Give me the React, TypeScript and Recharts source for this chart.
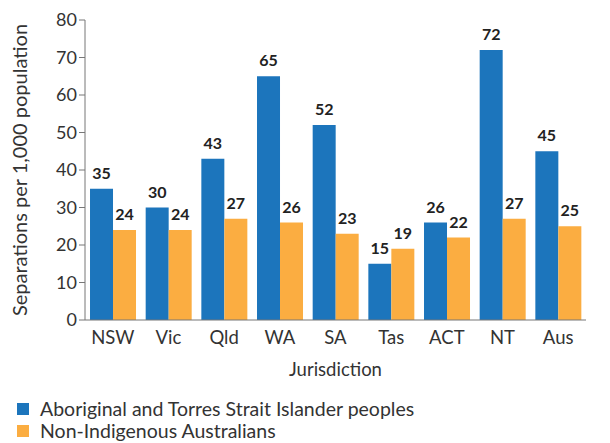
import { BarChart, Bar, XAxis, YAxis, LabelList } from "recharts";

const JURISDICTIONS = ["NSW", "Vic", "Qld", "WA", "SA", "Tas", "ACT", "NT", "Aus"];
const INDIGENOUS = [35, 30, 43, 65, 52, 15, 26, 72, 45];
const NON_INDIGENOUS = [24, 24, 27, 26, 23, 19, 22, 27, 25];
const Y_TICKS = [0, 10, 20, 30, 40, 50, 60, 70, 80];

const BLUE = "#1c75bc";
const ORANGE = "#fbad41";
const FONT = "Lato, 'Open Sans', sans-serif";

const data = JURISDICTIONS.map((j, i) => ({
  name: j,
  indigenous: INDIGENOUS[i],
  nonIndigenous: NON_INDIGENOUS[i],
}));

export default function App() {
  return (
    <div style={{ position: "absolute", left: 0, top: 0, width: 610, height: 443, background: "#fff", fontFamily: FONT }}>
      <BarChart
        width={610}
        height={380}
        data={data}
        margin={{ top: 20, right: 24, left: 0, bottom: 0 }}
        barCategoryGap="9%"
        barGap={0}
      >
        <XAxis
          dataKey="name"
          height={60}
          tickLine={false}
          axisLine={{ stroke: "#777" }}
          tick={{ fill: "#333", fontSize: 18.5, fontFamily: FONT }}
          tickMargin={5}
          label={{ value: "Jurisdiction", position: "insideBottom", offset: 4, fill: "#333", fontSize: 18.5, fontFamily: FONT }}
        />
        <YAxis
          width={85}
          domain={[0, 80]}
          ticks={Y_TICKS}
          interval={0}
          axisLine={{ stroke: "#777" }}
          tickLine={{ stroke: "#777" }}
          tickSize={6}
          tick={{ fill: "#333", fontSize: 18, fontFamily: FONT }}
          label={{
            value: "Separations per 1,000 population",
            angle: -90,
            position: "insideLeft",
            offset: 20,
            style: { textAnchor: "middle" },
            fill: "#333",
            fontSize: 20,
            fontFamily: FONT,
          }}
        />
        <Bar dataKey="indigenous" fill={BLUE} isAnimationActive={false}>
          <LabelList dataKey="indigenous" position="top" offset={10} fill="#222" fontSize={16} fontWeight={700} fontFamily={FONT} />
        </Bar>
        <Bar dataKey="nonIndigenous" fill={ORANGE} isAnimationActive={false}>
          <LabelList dataKey="nonIndigenous" position="top" offset={10} fill="#222" fontSize={16} fontWeight={700} fontFamily={FONT} />
        </Bar>
      </BarChart>
      <div style={{ position: "absolute", left: 17, top: 398, fontSize: 19.5, color: "#333", lineHeight: "22px" }}>
        <div style={{ display: "flex", alignItems: "center" }}>
          <span style={{ width: 12, height: 12, background: BLUE, display: "inline-block", marginRight: 11 }} />
          Aboriginal and Torres Strait Islander peoples
        </div>
        <div style={{ display: "flex", alignItems: "center" }}>
          <span style={{ width: 12, height: 12, background: ORANGE, display: "inline-block", marginRight: 11 }} />
          Non-Indigenous Australians
        </div>
      </div>
    </div>
  );
}
